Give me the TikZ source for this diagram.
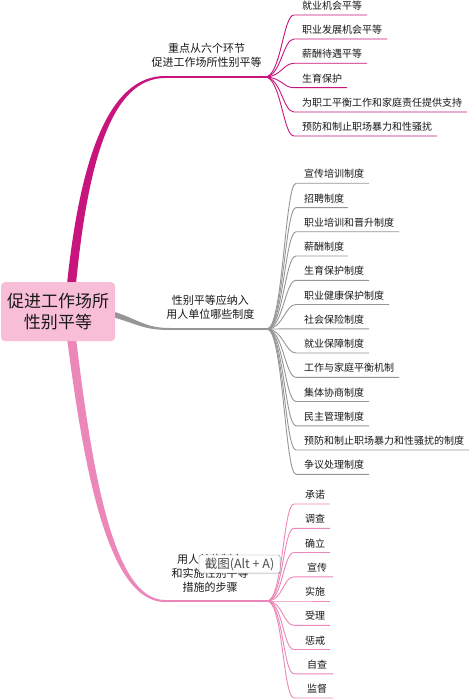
\documentclass[tikz,border=0pt]{standalone}
\usepackage{fontspec}
\setmainfont{Noto Sans CJK SC}
\usetikzlibrary{shadows}
\definecolor{cmag}{RGB}{200,20,125}
\definecolor{cgray}{RGB}{150,150,150}
\definecolor{cpink}{RGB}{236,135,185}
\definecolor{rootfill}{RGB}{248,190,216}
\definecolor{txt}{RGB}{25,25,25}
\tikzset{
 rootbox/.style={fill=rootfill, rounded corners=4pt, minimum width=114pt, minimum height=59pt, align=center, font=\fontsize{17}{20.5}\selectfont, text=txt, inner sep=0pt},
 blabel/.style={align=center, font=\fontsize{11}{14}\selectfont, text=txt, inner sep=0pt},
 leaf/.style={anchor=base west, inner sep=0pt, font=\fontsize{10}{12}\selectfont, text=txt},
 l1/.style={draw=cmag, line width=0.9pt},
 l2/.style={draw=cgray, line width=0.9pt},
 l3/.style={draw=cpink, line width=0.9pt},
 tipbox/.style={draw=black!45, fill=white, rounded corners=2pt, minimum width=81pt, minimum height=18pt, inner sep=0pt, font=\fontsize{12.5}{14}\selectfont, text=black!70, drop shadow={opacity=0.25, shadow xshift=1pt, shadow yshift=-1pt}}
}
\begin{document}
\begin{tikzpicture}[x=1pt,y=-1pt]
\useasboundingbox (0,0) rectangle (470,700);
\fill[white] (0,0) rectangle (470,700);
% fan points
\coordinate (f1) at (265,77);
\coordinate (f2) at (267,329);
\coordinate (f3) at (267,601);
\coordinate (h1) at (164,77);
\coordinate (h2) at (169,329);
\coordinate (h3) at (164,601);
% main branches (tapered)
\fill[cmag] (67,284) .. controls (80,160) and (108,76) .. (165,76) -- (165,78) .. controls (112,78) and (88,160) .. (76,284) -- cycle;
\draw[cmag, line width=1.8pt] (h1) -- (f1);
\fill[cgray] (112,311) .. controls (140,320) and (145,328) .. (170,328) -- (170,330) .. controls (143,330) and (138,324) .. (112,317) -- cycle;
\draw[cgray, line width=2pt] (h2) -- (f2);
\fill[cpink] (67,338) .. controls (84,470) and (108,602) .. (165,602) -- (165,600) .. controls (113,600) and (92,470) .. (76,338) -- cycle;
\draw[cpink, line width=1.8pt] (h3) -- (f3);
% root
\node[rootbox] (root) at (58,311.7) {促进工作场所\\性别平等};
% branch labels
\node[blabel] (b1) at (206.6,55.5) {重点从六个环节\\促进工作场所性别平等};
\node[blabel] (b2) at (210.4,307) {性别平等应纳入\\用人单位哪些制度};
\node[blabel] (b3) at (210,573.5) {用人单位制定\\和实施性别平等\\措施的步骤};
% branch 1 leaves
\foreach \t/\y/\e [count=\i] in {就业机会平等/15/367, 职业发展机会平等/39/387, 薪酬待遇平等/63.3/367, 生育保护/87.7/347, 为职工平衡工作和家庭责任提供支持/112/467, 预防和制止职场暴力和性骚扰/136/437} {
  \coordinate (a1-\i) at (294,\y);
  \coordinate (z1-\i) at (\e,\y);
  \node[leaf] (n1-\i) at (302,\y-5.5) {\t};
  \draw[l1] (f1) .. controls +(16,0) and +(-11,0) .. (a1-\i) -- (z1-\i);
}
% branch 2 leaves
\foreach \t/\y/\e [count=\i] in {宣传培训制度/183.3/369, 招聘制度/207.6/348, 职业培训和晋升制度/231.8/399, 薪酬制度/256/348, 生育保护制度/280.3/369, 职业健康保护制度/304.5/389, 社会保险制度/328.8/369, 就业保障制度/353/369, 工作与家庭平衡机制/377.3/399, 集体协商制度/401.5/369, 民主管理制度/425.8/369, 预防和制止职场暴力和性骚扰的制度/450/469, 争议处理制度/474.3/369} {
  \coordinate (a2-\i) at (296,\y);
  \coordinate (z2-\i) at (\e,\y);
  \node[leaf] (n2-\i) at (304,\y-5.5) {\t};
  \draw[l2] (f2) .. controls +(16,0) and +(-11,0) .. (a2-\i) -- (z2-\i);
}
% branch 3 leaves
\foreach \t/\y/\x/\e [count=\i] in {承诺/504/305/330, 调查/528.3/305/330, 确立/552.5/305/330, 宣传/576.8/307/333, 实施/601/305/330, 受理/625.3/305/330, 惩戒/649.5/305/330, 自查/673.8/307/333, 监督/698/307/333} {
  \coordinate (a3-\i) at (294,\y);
  \coordinate (z3-\i) at (\e,\y);
  \node[leaf] (n3-\i) at (\x,\y-5.5) {\t};
  \draw[l3] (f3) .. controls +(16,0) and +(-11,0) .. (a3-\i) -- (z3-\i);
}
% screenshot tooltip
\node[tipbox] (tip) at (239.5,564) {截图(Alt + A)};
\end{tikzpicture}
\end{document}
